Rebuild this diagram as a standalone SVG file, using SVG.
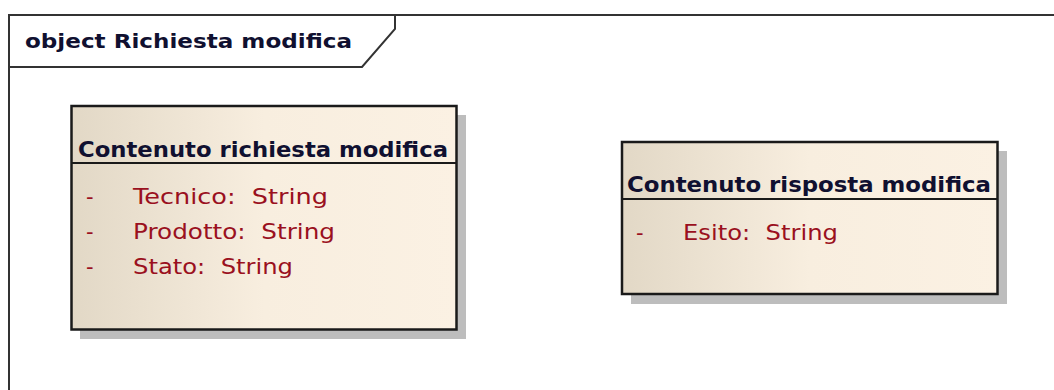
<svg xmlns="http://www.w3.org/2000/svg" width="1054" height="390" viewBox="0 0 1054 390">
  <defs>
    <linearGradient id="fillGrad" x1="0" y1="0" x2="1" y2="0">
      <stop offset="0" stop-color="#e2d8c6"/>
      <stop offset="0.5" stop-color="#f8eedf"/>
      <stop offset="1" stop-color="#fbf1e3"/>
    </linearGradient>
  </defs>
  <style>
    .frame { fill: none; stroke: #333333; stroke-width: 2; }
    .shadow { fill: #bdbdbd; }
    .box { fill: url(#fillGrad); stroke: #1a1a1a; stroke-width: 2.5; }
    .sep { stroke: #1a1a1a; stroke-width: 2; }
    .title { font-family: "DejaVu Sans", "Liberation Sans", sans-serif; font-weight: bold; font-size: 20px; fill: #101030; }
    .head { font-family: "DejaVu Sans", "Liberation Sans", sans-serif; font-weight: bold; font-size: 21px; fill: #101030; }
    .attr { font-family: "DejaVu Sans", "Liberation Sans", sans-serif; font-size: 21px; fill: #9a1020; white-space: pre; }
  </style>
  <rect width="1054" height="390" fill="#ffffff"/>
  <g id="frame">
    <path class="frame" d="M1054,15 H9 V390"/>
    <path class="frame" d="M9,67 H362 L395,29 V15"/>
    <text class="title" x="25" y="48" textLength="327" lengthAdjust="spacingAndGlyphs">object Richiesta modifica</text>
  </g>
  <g id="node-richiesta">
    <rect class="shadow" x="80" y="115" width="386" height="224"/>
    <rect class="box" x="71.5" y="106" width="385" height="223.5"/>
    <text class="head" x="78" y="157" textLength="370" lengthAdjust="spacingAndGlyphs">Contenuto richiesta modifica</text>
    <line class="sep" x1="72" y1="163" x2="457" y2="163"/>
    <text class="attr" x="86" y="204">-</text>
    <text class="attr" x="133" y="204" textLength="195" lengthAdjust="spacingAndGlyphs">Tecnico:  String</text>
    <text class="attr" x="86" y="239">-</text>
    <text class="attr" x="133" y="239" textLength="202" lengthAdjust="spacingAndGlyphs">Prodotto:  String</text>
    <text class="attr" x="86" y="274">-</text>
    <text class="attr" x="133" y="274" textLength="160" lengthAdjust="spacingAndGlyphs">Stato:  String</text>
  </g>
  <g id="node-risposta">
    <rect class="shadow" x="631" y="151" width="376" height="153"/>
    <rect class="box" x="622" y="142" width="375.5" height="152"/>
    <text class="head" x="627" y="192" textLength="364" lengthAdjust="spacingAndGlyphs">Contenuto risposta modifica</text>
    <line class="sep" x1="622" y1="199" x2="997" y2="199"/>
    <text class="attr" x="636" y="240">-</text>
    <text class="attr" x="683" y="240" textLength="155" lengthAdjust="spacingAndGlyphs">Esito:  String</text>
  </g>
  <g id="connectors"/>
</svg>
